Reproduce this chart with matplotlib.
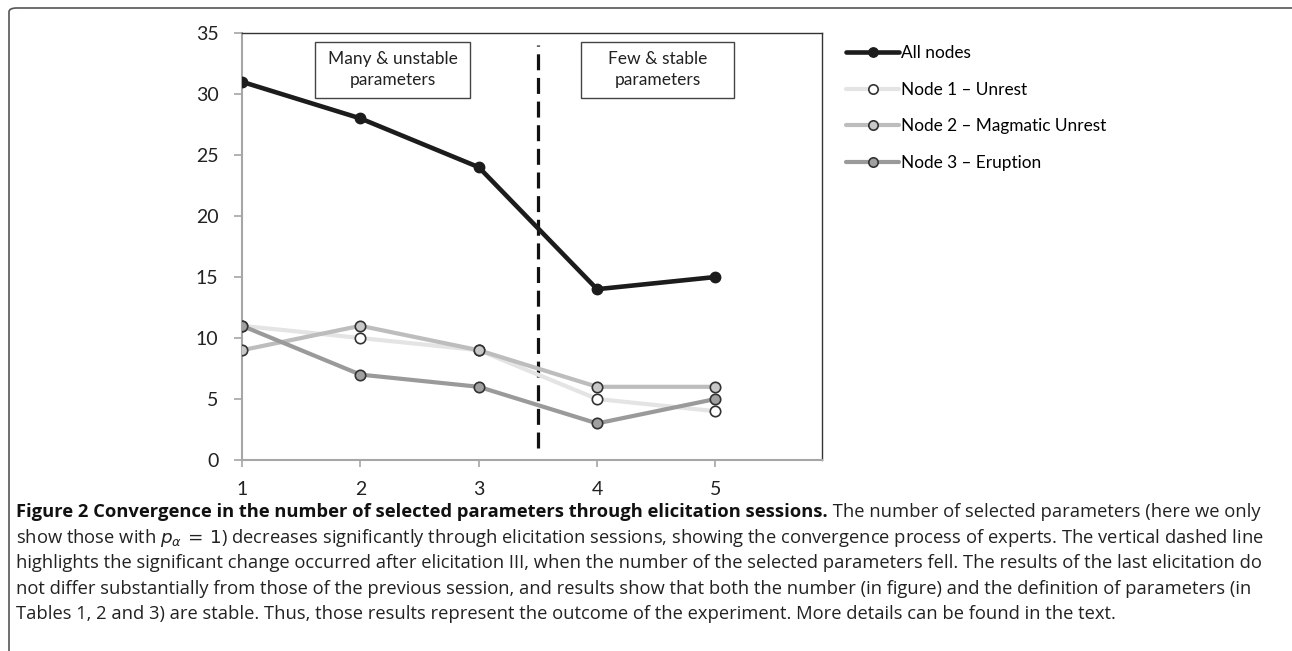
import matplotlib
matplotlib.use("Agg")
import matplotlib.pyplot as plt
from matplotlib.patches import Rectangle, FancyBboxPatch

# data
sessions = [1, 2, 3, 4, 5]
all_nodes = [31, 28, 24, 14, 15]
node1_unrest = [11, 10, 9, 5, 4]
node2_magmatic = [9, 11, 9, 6, 6]
node3_eruption = [11, 7, 6, 3, 5]
series_names = ["All nodes", "Node 1 \u2013 Unrest", "Node 2 \u2013 Magmatic Unrest", "Node 3 \u2013 Eruption"]
y_ticks = [0, 5, 10, 15, 20, 25, 30, 35]
box_labels = ["Many & unstable\nparameters", "Few & stable\nparameters"]

caption_bold = "Figure 2 Convergence in the number of selected parameters through elicitation sessions."
caption_lines = [
    " The number of selected parameters (here we only",
    "show those with $p_\\alpha\\,=\\,1$) decreases significantly through elicitation sessions, showing the convergence process of experts. The vertical dashed line",
    "highlights the significant change occurred after elicitation III, when the number of the selected parameters fell. The results of the last elicitation do",
    "not differ substantially from those of the previous session, and results show that both the number (in figure) and the definition of parameters (in",
    "Tables 1, 2 and 3) are stable. Thus, those results represent the outcome of the experiment. More details can be found in the text.",
]

plt.rcParams['font.family'] = ['Lato', 'DejaVu Sans']
plt.rcParams['mathtext.fontset'] = 'dejavusans'
cap_font = ['Open Sans', 'DejaVu Sans']
cap_size = 13.2

W, H = 1292, 651
fig = plt.figure(figsize=(W / 100, H / 100), dpi=100)
ax = fig.add_axes([242 / W, 1 - 460 / H, (822 - 242) / W, (460 - 33) / H])

edge = '#333333'
styles = [
    dict(color='#1c1c1c', lw=3.3, marker='o', ms=7.5, mfc='#1c1c1c', mec='#1c1c1c'),
    dict(color='#e4e4e4', lw=3.0, marker='o', ms=7.5, mfc='white', mec=edge, mew=1.2),
    dict(color='#bdbdbd', lw=3.0, marker='o', ms=7.5, mfc='#c8c8c8', mec=edge, mew=1.2),
    dict(color='#9a9a9a', lw=3.0, marker='o', ms=7.5, mfc='#a0a0a0', mec=edge, mew=1.2),
]
handles = []
for vals, name, st in zip([all_nodes, node1_unrest, node2_magmatic, node3_eruption], series_names, styles):
    ln, = ax.plot(sessions, vals, label=name, zorder=3, solid_capstyle='round', **st)
    handles.append(ln)

# dashed separator between session III and IV
ax.plot([3.5, 3.5], [1, 34], color='#111111', lw=2.3, dashes=(5, 2.4), zorder=2)

# annotation boxes
ax.add_patch(Rectangle((1.62, 29.65), 1.31, 4.65, fill=False, ec='#444444', lw=1.0, zorder=4))
ax.add_patch(Rectangle((3.86, 29.65), 1.30, 4.65, fill=False, ec='#444444', lw=1.0, zorder=4))
ax.text(2.275, 32.0, box_labels[0], ha='center', va='center', fontsize=12.5, color='#222222', linespacing=1.35)
ax.text(4.51, 32.0, box_labels[1], ha='center', va='center', fontsize=12.5, color='#222222', linespacing=1.35)

ax.set_xlim(1, 5.9)
ax.set_ylim(0, 35)
ax.set_xticks(sessions)
ax.set_yticks(y_ticks)
ax.tick_params(axis='y', direction='out', length=6, width=1.2, color='#a6a6a6', pad=11,
               labelsize=14, labelcolor='#222222')
ax.tick_params(axis='x', direction='out', length=5, width=1.2, color='#a6a6a6', pad=10,
               labelsize=14, labelcolor='#222222')
for s in ['left', 'bottom']:
    ax.spines[s].set_color('#a6a6a6')
    ax.spines[s].set_linewidth(1.5)
for s in ['top', 'right']:
    ax.spines[s].set_color('#333333')
    ax.spines[s].set_linewidth(1.0)

fig.legend(handles=handles, labels=series_names, loc='upper left',
           bbox_to_anchor=(846 / W, 1 - 45 / H), frameon=False, fontsize=12.4,
           handlelength=3.1, handletextpad=0.1, labelspacing=1.2, borderpad=0,
           borderaxespad=0, markerscale=0.9)

# caption
cap_x = 16 / W
t1 = fig.text(cap_x, 1 - 517 / H, caption_bold, fontsize=cap_size, weight='bold',
              family=cap_font, color='#111111', va='baseline')
ax.annotate(caption_lines[0], xy=(1, 0), xycoords=t1, va='bottom', ha='left',
            fontsize=cap_size, family=cap_font, color='#222222',
            annotation_clip=False)
for i, line in enumerate(caption_lines[1:]):
    fig.text(cap_x, 1 - (543 + 25.3 * i) / H, line, fontsize=cap_size,
             family=cap_font, color='#222222', va='baseline')

# outer frame (only top and left visible in the crop)
fig.patches.append(FancyBboxPatch((9 / W, -0.1), 1.2, 1.1 - 8 / H,
                                  boxstyle='round,pad=0,rounding_size=0.006',
                                  transform=fig.transFigure, fill=False,
                                  ec='#555555', lw=1.2, figure=fig))

fig.savefig('out.png', dpi=100)
